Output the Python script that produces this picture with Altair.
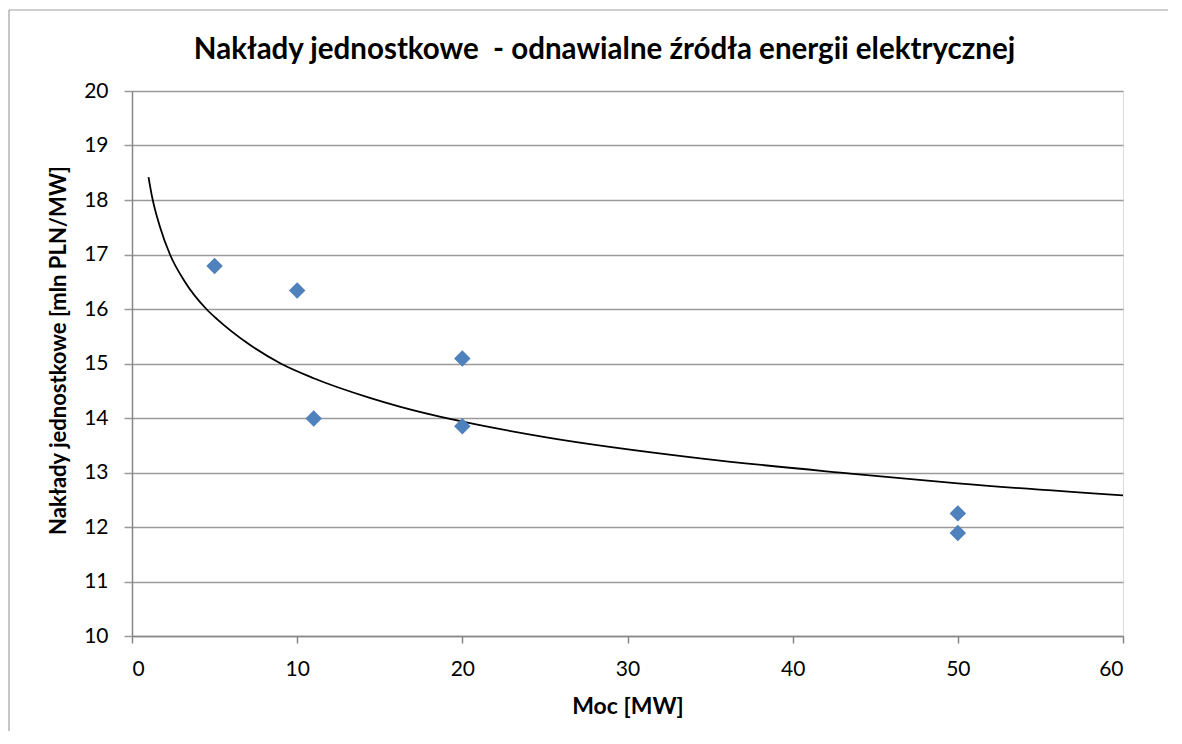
import altair as alt
import pandas as pd

# Data points (Moc [MW], Nakłady jednostkowe [mln PLN/MW])
moc = [5, 10, 11, 20, 20, 50, 50]
naklady = [16.79, 16.34, 13.99, 15.09, 13.85, 12.25, 11.89]

# Trend line
trend_x = [1.0, 1.2, 1.7, 2.3, 3.2, 4.5, 5.2, 7.0, 9.0, 11.0, 14.4, 16.2, 19.75, 25.0, 34.4, 43.5, 50.0, 60.0]
trend_y = [18.42, 18.08, 17.5, 17.0, 16.5, 16.0, 15.8, 15.37, 15.0, 14.73, 14.37, 14.21, 13.95, 13.65, 13.26, 12.98, 12.8, 12.58]

x_ticks = [0, 10, 20, 30, 40, 50, 60]
y_ticks = [10, 11, 12, 13, 14, 15, 16, 17, 18, 19, 20]

title_text = "Nakłady jednostkowe \u00a0- odnawialne źródła energii elektrycznej"
x_title = "Moc [MW]"
y_title = "Nakłady jednostkowe [mln PLN/MW]"

pts = pd.DataFrame({"moc": moc, "naklady": naklady})
trend = pd.DataFrame({"moc": trend_x, "naklady": trend_y})

FONT = "Lato"
GRID = "#9a9a9a"
AXIS = "#868686"

xscale = alt.Scale(domain=[0, 60], nice=False, zero=False)
yscale = alt.Scale(domain=[10, 20], nice=False, zero=False)

xaxis = alt.Axis(
    values=x_ticks, grid=False, tickSize=7, tickColor=AXIS, domainColor=AXIS,
    domainWidth=1.5, tickWidth=1.5,
    labelFont=FONT, labelFontSize=21, labelColor="black", labelPadding=32,
    labelBaseline="alphabetic",
    title=x_title, titleFont=FONT, titleFontSize=23, titleFontWeight="bold",
    titleColor="black", titleBaseline="alphabetic", titleY=77,
)
yaxis = alt.Axis(
    values=y_ticks, grid=True, gridColor=GRID, gridWidth=1.5,
    tickSize=8, tickColor=GRID, tickWidth=1.5, domainColor=AXIS, domainWidth=1.5,
    labelFont=FONT, labelFontSize=21, labelColor="black", labelPadding=16,
    title=y_title, titleFont=FONT, titleFontSize=22, titleFontWeight="bold",
    titleColor="black", titleAngle=270, titleBaseline="alphabetic",
    titleAlign="center", titleX=-67, titleY=259,
)

points = alt.Chart(pts).mark_point(
    shape="diamond", filled=True, size=272, color="#4F81BD", opacity=1
).encode(
    x=alt.X("moc:Q", scale=xscale, axis=xaxis),
    y=alt.Y("naklady:Q", scale=yscale, axis=yaxis),
)

line = alt.Chart(trend).mark_line(
    color="black", strokeWidth=1.8, interpolate="monotone"
).encode(
    x=alt.X("moc:Q", scale=xscale),
    y=alt.Y("naklady:Q", scale=yscale),
)

one = pd.DataFrame({"k": [0]})
border_left = alt.Chart(one).mark_rule(color="#a0a0a0", strokeWidth=1.2).encode(
    x=alt.value(-123), y=alt.value(-81), y2=alt.value(700)
)
border_top = alt.Chart(one).mark_rule(color="#a0a0a0", strokeWidth=1.2).encode(
    x=alt.value(-123), x2=alt.value(1100), y=alt.value(-81)
)

chart = alt.layer(border_left, border_top, line, points).properties(
    width=991, height=545,
    autosize="none",
    padding={"left": 124, "top": 83, "right": 45, "bottom": 95},
    title=alt.TitleParams(
        title_text, font=FONT, fontSize=29.5, fontWeight="bold", color="black",
        anchor="middle", dx=-23, dy=74, offset=18,
    ),
).configure_view(stroke=None).configure(background="white")

chart.save("out.html", embed_options={"renderer": "svg", "actions": False})
